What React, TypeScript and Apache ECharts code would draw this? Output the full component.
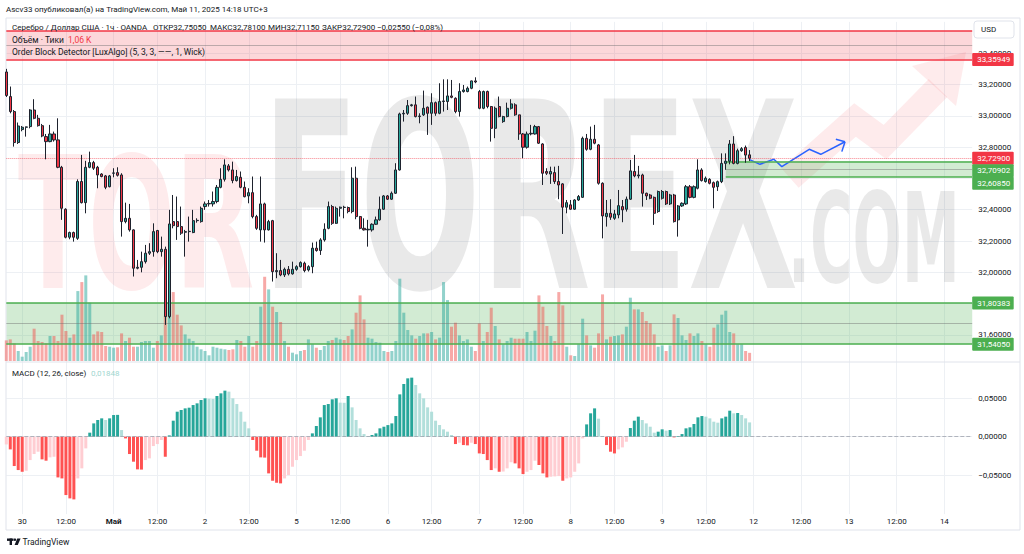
import React, { useEffect, useRef } from "react";
import * as echarts from "echarts";

// ---------- data (hourly bars, index 0 = first, partly clipped bar) ----------
const opens = [
  33.28, 33.123, 33.027, 32.829, 32.912, 32.927, 32.931, 33.037, 32.984, 32.937, 32.867,
  32.835, 32.884, 32.846, 32.671, 32.403, 32.224, 32.254, 32.217, 32.58, 32.445,
  32.671, 32.701, 32.671, 32.628, 32.616, 32.547, 32.633, 32.637, 32.622, 32.324,
  32.345, 32.271, 32.026, 32.032, 32.068, 32.122, 32.132, 32.267, 32.132, 32.147,
  31.717, 32.324, 32.324, 32.292, 32.256, 32.26, 32.254, 32.33, 32.324, 32.42,
  32.437, 32.437, 32.452, 32.543, 32.594, 32.68, 32.654, 32.586, 32.607, 32.543,
  32.488, 32.509, 32.356, 32.271, 32.437, 32.271, 32.33, 32.004, 32.011, 31.983,
  32.019, 31.99, 32.019, 32.036, 32.058, 32.015, 32.036, 32.154, 32.139, 32.207,
  32.281, 32.42, 32.313, 32.409, 32.416, 32.414, 32.388, 32.601, 32.356, 32.281,
  32.271, 32.271, 32.307, 32.335, 32.403, 32.488, 32.467, 32.505, 32.654, 33.012,
  33.016, 33.065, 33.07, 32.995, 33.006, 33.055, 33.016, 33.084, 33.016, 33.091,
  33.091, 33.127, 33.112, 33.027, 33.155, 33.155, 33.176, 33.223, 33.155, 33.048,
  33.155, 33.059, 32.92, 33.059, 32.963, 32.995, 33.048, 33.07, 33.006, 32.884,
  32.799, 32.884, 32.884, 32.931, 32.82, 32.644, 32.628, 32.637, 32.58, 32.565,
  32.416, 32.431, 32.403, 32.462, 32.479, 32.856, 32.786, 32.85, 32.814, 32.569,
  32.356, 32.377, 32.345, 32.367, 32.42, 32.403, 32.467, 32.644, 32.616, 32.622,
  32.505, 32.494, 32.479, 32.388, 32.473, 32.516, 32.437, 32.494, 32.335, 32.424,
  32.437, 32.547, 32.479, 32.537, 32.654, 32.58, 32.594, 32.573, 32.547, 32.579,
  32.696, 32.71, 32.82, 32.696, 32.777, 32.798, 32.7505,
];
const closes = [
  33.13, 33.027, 32.829, 32.935, 32.927, 32.929, 33.037, 32.984, 32.937, 32.871, 32.835,
  32.884, 32.846, 32.671, 32.409, 32.224, 32.254, 32.224, 32.58, 32.445, 32.671,
  32.701, 32.665, 32.622, 32.612, 32.543, 32.616, 32.635, 32.62, 32.324, 32.345,
  32.271, 32.026, 32.032, 32.068, 32.122, 32.132, 32.26, 32.132, 32.147, 31.717,
  32.309, 32.298, 32.292, 32.25, 32.26, 32.262, 32.33, 32.332, 32.409, 32.437,
  32.44, 32.452, 32.543, 32.594, 32.686, 32.654, 32.586, 32.612, 32.543, 32.483,
  32.509, 32.356, 32.281, 32.437, 32.271, 32.324, 32.004, 32.011, 31.983, 32.019,
  31.99, 32.019, 32.036, 32.062, 32.011, 32.036, 32.154, 32.139, 32.207, 32.275,
  32.42, 32.313, 32.409, 32.416, 32.414, 32.388, 32.601, 32.356, 32.281, 32.271,
  32.275, 32.307, 32.335, 32.403, 32.488, 32.467, 32.505, 32.654, 33.012, 33.016,
  33.065, 33.07, 32.995, 32.999, 33.048, 33.016, 33.084, 33.016, 33.091, 33.095,
  33.127, 33.118, 33.027, 33.155, 33.165, 33.176, 33.223, 33.216, 33.048, 33.155,
  33.059, 32.92, 33.048, 32.995, 32.995, 33.048, 33.076, 33.006, 32.884, 32.799,
  32.884, 32.888, 32.931, 32.825, 32.633, 32.633, 32.644, 32.58, 32.558, 32.416,
  32.445, 32.403, 32.462, 32.484, 32.856, 32.786, 32.85, 32.825, 32.569, 32.36,
  32.377, 32.352, 32.373, 32.426, 32.399, 32.467, 32.648, 32.616, 32.622, 32.505,
  32.488, 32.473, 32.377, 32.516, 32.516, 32.437, 32.494, 32.324, 32.424, 32.441,
  32.547, 32.479, 32.547, 32.654, 32.586, 32.601, 32.569, 32.543, 32.579, 32.696,
  32.71, 32.82, 32.696, 32.777, 32.79, 32.749, 32.729,
];
const lows = [
  33.12, 33.016, 32.803, 32.82, 32.901, 32.867, 32.92, 32.978, 32.931, 32.863, 32.722,
  32.831, 32.835, 32.665, 32.335, 32.217, 32.211, 32.196, 32.207, 32.44, 32.377,
  32.665, 32.654, 32.537, 32.607, 32.531, 32.543, 32.607, 32.612, 32.228, 32.313,
  32.26, 31.973, 32.019, 32.0, 32.056, 32.111, 32.1, 32.122, 32.1, 31.664,
  31.706, 32.281, 32.207, 32.239, 32.1, 32.196, 32.25, 32.317, 32.317, 32.399,
  32.42, 32.42, 32.441, 32.537, 32.58, 32.644, 32.569, 32.58, 32.537, 32.479,
  32.441, 32.345, 32.271, 32.196, 32.19, 32.267, 31.941, 31.962, 31.975, 31.97,
  31.98, 31.985, 32.01, 32.03, 32.0, 32.005, 31.994, 32.132, 32.111, 32.196,
  32.275, 32.303, 32.309, 32.356, 32.345, 32.377, 32.377, 32.339, 32.275, 32.267,
  32.164, 32.26, 32.303, 32.33, 32.399, 32.462, 32.462, 32.501, 32.65, 32.963,
  33.006, 33.059, 32.99, 32.952, 32.999, 32.878, 32.942, 33.0, 33.01, 33.027,
  33.037, 33.112, 33.016, 32.995, 33.148, 33.15, 33.17, 33.208, 33.042, 33.042,
  33.048, 32.835, 32.857, 32.99, 32.955, 32.99, 33.04, 33.0, 32.846, 32.729,
  32.79, 32.875, 32.88, 32.82, 32.558, 32.622, 32.565, 32.565, 32.467, 32.245,
  32.377, 32.399, 32.399, 32.456, 32.475, 32.777, 32.78, 32.818, 32.56, 32.217,
  32.292, 32.335, 32.335, 32.345, 32.32, 32.388, 32.462, 32.607, 32.6, 32.42,
  32.462, 32.467, 32.303, 32.38, 32.465, 32.43, 32.43, 32.318, 32.228, 32.418,
  32.43, 32.473, 32.473, 32.53, 32.58, 32.573, 32.562, 32.409, 32.52, 32.57,
  32.655, 32.69, 32.69, 32.69, 32.77, 32.7, 32.7115,
];
const highs = [
  33.3, 33.187, 33.037, 32.957, 32.935, 32.931, 33.042, 33.106, 33.006, 32.948, 32.884,
  32.942, 32.899, 32.984, 32.68, 32.409, 32.26, 32.26, 32.594, 32.75, 32.712,
  32.771, 32.712, 32.68, 32.633, 32.622, 32.622, 32.665, 32.671, 32.633, 32.445,
  32.437, 32.275, 32.079, 32.132, 32.175, 32.186, 32.313, 32.271, 32.228, 32.164,
  32.399, 32.494, 32.484, 32.42, 32.271, 32.356, 32.399, 32.345, 32.42, 32.452,
  32.462, 32.516, 32.558, 32.665, 32.722, 32.692, 32.707, 32.654, 32.644, 32.58,
  32.537, 32.612, 32.367, 32.612, 32.445, 32.335, 32.335, 32.122, 32.079, 32.03,
  32.04, 32.068, 32.045, 32.07, 32.068, 32.045, 32.19, 32.196, 32.218, 32.313,
  32.452, 32.431, 32.42, 32.42, 32.425, 32.42, 32.671, 32.675, 32.36, 32.345,
  32.335, 32.313, 32.356, 32.484, 32.494, 32.494, 32.516, 32.697, 33.02, 33.037,
  33.101, 33.076, 33.123, 33.016, 33.161, 33.059, 33.144, 33.091, 33.208, 33.233,
  33.233, 33.229, 33.118, 33.208, 33.197, 33.187, 33.225, 33.246, 33.165, 33.161,
  33.161, 33.063, 33.059, 33.123, 33.0, 33.084, 33.106, 33.08, 33.006, 32.89,
  32.899, 32.942, 32.942, 32.935, 32.825, 32.665, 32.675, 32.675, 32.68, 32.57,
  32.462, 32.462, 32.467, 32.494, 32.867, 32.884, 32.931, 32.942, 32.82, 32.575,
  32.462, 32.467, 32.399, 32.526, 32.462, 32.484, 32.718, 32.75, 32.68, 32.63,
  32.509, 32.501, 32.484, 32.522, 32.526, 32.522, 32.501, 32.501, 32.43, 32.447,
  32.558, 32.558, 32.555, 32.722, 32.665, 32.612, 32.601, 32.58, 32.586, 32.76,
  32.76, 32.845, 32.87, 32.79, 32.8, 32.81, 32.781,
];
// tick volume, thousands
const volumesK = [
  2.68,
  2.81, 2.29, 1.3, 0.56, 1.17, 1.86, 4.2, 2.6, 2.47, 2.29,
  3.25, 3.25, 2.6, 6.02, 3.9, 3.03, 3.46, 9.09, 10.26, 11.13,
  7.58, 3.46, 3.85, 3.77, 1.95, 1.86, 1.73, 1.78, 3.59, 2.6,
  3.03, 1.86, 1.86, 2.47, 2.6, 2.6, 1.73, 2.6, 3.33, 5.85,
  7.58, 8.96, 6.02, 4.63, 3.46, 2.9, 2.6, 1.86, 1.52, 1.3,
  0.74, 1.86, 1.73, 1.6, 1.52, 1.43, 1.52, 2.73, 2.6, 1.86,
  3.25, 1.86, 2.6, 7.06, 10.95, 9.31, 7.06, 6.37, 5.07, 2.6,
  1.86, 1.08, 0.87, 1.3, 1.43, 2.81, 2.17, 1.73, 1.43, 1.95,
  2.6, 2.73, 3.03, 2.81, 2.73, 3.25, 4.11, 6.28, 8.53, 5.41,
  3.03, 2.9, 2.47, 2.38, 1.3, 1.17, 1.3, 2.6, 10.7, 6.28,
  4.03, 3.33, 2.9, 3.25, 3.59, 3.59, 3.77, 2.81, 3.03, 10.26,
  7.92, 4.46, 4.98, 3.33, 2.6, 2.81, 1.86, 1.3, 4.89, 2.6,
  3.77, 6.93, 4.55, 2.81, 2.17, 2.6, 3.03, 2.9, 2.9, 2.9,
  3.77, 2.6, 3.94, 8.53, 7.06, 4.55, 3.25, 2.6, 8.96, 7.23,
  1.86, 0.74, 0.65, 2.17, 5.5, 3.33, 2.04, 1.73, 3.59, 8.66,
  2.81, 3.16, 3.25, 3.33, 3.46, 4.46, 8.23, 6.71, 6.71, 6.37,
  5.2, 4.89, 3.46, 1.86, 2.04, 1.3, 2.04, 6.06, 5.59, 3.33,
  2.73, 3.59, 3.25, 3.59, 2.6, 2.17, 1.86, 4.33, 4.76, 6.02,
  6.54, 3.77, 3.59, 2.17, 2.17, 1.3, 1.06,
];
const macdHist = [
  -0.01, -0.0164, -0.0379, -0.0431, -0.0453, -0.044, -0.0302, -0.0224, -0.0194, -0.0293,
  -0.031, -0.0267, -0.0259, -0.0526, -0.0539, -0.0754, -0.0797, -0.081, -0.0539, -0.0409,
  -0.0151, 0.0052, 0.0172, 0.0216, 0.0237, 0.0216, 0.0237, 0.028, 0.0282, 0.0086,
  -0.0022, -0.0224, -0.0323, -0.0422, -0.0425, -0.0302, -0.028, -0.0121, -0.0095, -0.0043,
  -0.0259, 0.0017, 0.0207, 0.0323, 0.0345, 0.0366, 0.0375, 0.0409, 0.0431, 0.0474,
  0.0496, 0.0491, 0.0488, 0.0526, 0.056, 0.0595, 0.0582, 0.0496, 0.0422, 0.0323,
  0.0194, 0.0108, -0.0043, -0.0181, -0.0267, -0.027, -0.0474, -0.0569, -0.0595, -0.0603,
  -0.0539, -0.0496, -0.0388, -0.0302, -0.025, -0.0181, -0.0043, 0.0043, 0.0138, 0.025,
  0.0409, 0.0422, 0.0483, 0.0496, 0.044, 0.0438, 0.0526, 0.0379, 0.0216, 0.0108,
  0.0034, 0.0009, 0.0022, 0.0043, 0.0108, 0.0129, 0.015, 0.0172, 0.0267, 0.0547,
  0.0681, 0.0754, 0.0763, 0.0668, 0.056, 0.0496, 0.0379, 0.0323, 0.0207, 0.0151,
  0.0095, 0.0065, 0.0022, -0.0095, -0.0078, -0.0108, -0.0112, -0.0078, -0.0095, -0.0216,
  -0.0224, -0.0302, -0.0431, -0.0409, -0.0453, -0.045, -0.0409, -0.033, -0.0345, -0.0409,
  -0.0483, -0.0453, -0.0431, -0.031, -0.0366, -0.0474, -0.0526, -0.0517, -0.0513, -0.0509,
  -0.0569, -0.0539, -0.0526, -0.0453, -0.0345, -0.0022, 0.0159, 0.0302, 0.0366, 0.0233,
  0.0009, -0.0108, -0.0194, -0.0216, -0.0164, -0.0138, -0.0065, 0.0112, 0.0207, 0.0259,
  0.0216, 0.0172, 0.0129, 0.0052, 0.0065, 0.0095, 0.0078, 0.0086, -0.0009, 0.0009,
  0.0034, 0.0108, 0.0121, 0.0164, 0.025, 0.0267, 0.0259, 0.0237, 0.0194, 0.0181,
  0.0237, 0.0259, 0.0336, 0.0302, 0.0306, 0.028, 0.0237, 0.01848,
];
const timeTicks: Array<[number, string]> = [
  [4, "30"], [15, "12:00"], [27, "Май"], [38, "12:00"], [50, "2"], [61, "12:00"],
  [73, "5"], [84, "12:00"], [96, "6"], [107, "12:00"], [119, "7"], [130, "12:00"],
  [142, "8"], [153, "12:00"], [165, "9"], [176, "12:00"], [188, "12"], [200, "12:00"],
  [212, "13"], [224, "12:00"], [236, "14"],
];
const hiddenPriceLabels = [32.6]; // covered by the price badges in the reference
const SLOT_COUNT = 244;
const lastClose = 32.729;
const orderBlocks = [
  { from: 0, to: 243, top: 33.542, bottom: 33.35949, side: "bear" },
  { from: 181, to: 243, top: 32.70902, bottom: 32.6085, side: "bull" },
  { from: 0, to: 243, top: 31.80383, bottom: 31.5405, side: "bull" },
];
const forecastPath = [
  [187, 32.72], [189.6, 32.69], [193.1, 32.722], [195.1, 32.675],
  [202.0, 32.786], [204.9, 32.754], [211.0, 32.834],
];
const forecastHeadA = [[208.7, 32.85], [211.0, 32.834]];
const forecastHeadB = [[210.2, 32.771], [211.0, 32.834]];
const priceBadges = [
  { value: 33.35949, side: "bear" },
  { value: 32.729, side: "bear" },
  { value: 32.70902, side: "bull" },
  { value: 32.6085, side: "bull" },
  { value: 31.80383, side: "bull" },
  { value: 31.5405, side: "bull" },
];
const legendItems: Array<[number, string]> = [
  [12, "Серебро / Доллар США · 1ч · OANDA"],
  [153, "ОТКР32,75050"],
  [210, "МАКС32,78100"],
  [268, "МИН32,71150"],
  [322, "ЗАКР32,72900"],
  [377, "\u22120,02550 (\u22120,08%)"],
];

// ---------- layout / style ----------
const LEFT = 6.3;
const RIGHT = 51.8;
const AXIS_X = 1024 - RIGHT;
const FONT = "Roboto, sans-serif";
const TXT = "#131722";
const GRID_C = "#edf0f4";
const RED = "#f23645";
const GREEN = "#4caf50";

const fmtPrice = (v: number) => v.toFixed(5).replace(".", ",");
const fmtSigned = (v: number) =>
  (v < -1e-9 ? "\u2212" : "") + Math.abs(v).toFixed(5).replace(".", ",");

function buildOption() {
  const cats = Array.from({ length: SLOT_COUNT }, (_, i) => String(i));
  const tickMap = new Map<number, string>(timeTicks);
  const candleData = opens.map((o, i) => [o, closes[i], lows[i], highs[i]]);
  const volumeData = volumesK.map((v, i) => ({
    value: v,
    itemStyle: {
      color: closes[i] >= opens[i] ? "rgba(38,166,154,0.5)" : "rgba(239,83,80,0.5)",
    },
  }));
  const macdData = macdHist.map((v, i) => {
    const prev = i > 0 ? macdHist[i - 1] : v;
    let c: string;
    if (v >= 0) c = v >= prev ? "#26a69a" : "#b2dfdb";
    else c = v < prev ? "#ff5252" : "#ffcdd2";
    return { value: v, itemStyle: { color: c } };
  });
  const fillOf = (s: string) => (s === "bear" ? "rgba(242,54,69,0.2)" : "rgba(76,175,80,0.25)");
  const lineOf = (s: string) => (s === "bear" ? RED : GREEN);
  const zoneAreas = orderBlocks.map((b) => [
    { xAxis: b.from, yAxis: b.top, itemStyle: { color: fillOf(b.side) } },
    { xAxis: b.to, yAxis: b.bottom },
  ]);
  const zoneLines: any[] = [];
  orderBlocks.forEach((b) => {
    const mid = (b.top + b.bottom) / 2;
    zoneLines.push([
      { xAxis: b.from, yAxis: b.top, lineStyle: { color: lineOf(b.side), width: 1.5, type: "solid" } },
      { xAxis: b.to, yAxis: b.top },
    ]);
    zoneLines.push([
      { xAxis: b.from, yAxis: b.bottom, lineStyle: { color: lineOf(b.side), width: 1.5, type: "solid" } },
      { xAxis: b.to, yAxis: b.bottom },
    ]);
    zoneLines.push([
      { xAxis: b.from, yAxis: mid, lineStyle: { color: "rgba(110,110,110,0.45)", width: 1, type: "solid" } },
      { xAxis: b.to, yAxis: mid },
    ]);
  });

  const vSplit = {
    show: true,
    interval: (i: number) => tickMap.has(i),
    lineStyle: { color: GRID_C, width: 1 },
  };
  const labelFont = { fontFamily: FONT, fontSize: 8, color: TXT };

  return {
    animation: false,
    backgroundColor: "#ffffff",
    grid: [
      { left: LEFT, right: RIGHT, top: 21.9, bottom: 187.8 },
      { left: LEFT, right: RIGHT, top: 261, bottom: 193 },
      { left: LEFT, right: RIGHT, top: 359.3, bottom: 39.9 },
    ],
    xAxis: [
      {
        type: "category", gridIndex: 0, data: cats, boundaryGap: false,
        axisLine: { show: false }, axisTick: { show: false }, axisLabel: { show: false },
        splitLine: vSplit,
      },
      {
        type: "category", gridIndex: 1, data: cats, boundaryGap: false,
        axisLine: { show: false }, axisTick: { show: false }, axisLabel: { show: false },
        splitLine: { show: false },
      },
      {
        type: "category", gridIndex: 2, data: cats, boundaryGap: false,
        axisLine: { show: false }, axisTick: { show: false },
        axisLabel: {
          show: true,
          interval: (i: number) => tickMap.has(i),
          formatter: (_v: string, i: number) => {
            const t = tickMap.get(i) || "";
            return t === "Май" ? "{b|Май}" : t;
          },
          margin: 3,
          ...labelFont,
          rich: { b: { fontFamily: FONT, fontSize: 8, color: TXT, fontWeight: "bold" } },
        },
        splitLine: vSplit,
      },
      { type: "value", gridIndex: 0, min: 0, max: SLOT_COUNT - 1, show: false },
    ],
    yAxis: [
      {
        type: "value", gridIndex: 0, position: "right", min: 31.4, max: 33.6, interval: 0.2,
        axisLine: { show: false }, axisTick: { show: false },
        axisLabel: {
          formatter: (v: number) =>
            hiddenPriceLabels.some((h) => Math.abs(h - v) < 1e-6) ? "" : fmtPrice(v),
          showMinLabel: false, showMaxLabel: false, margin: 6, ...labelFont,
        },
        splitLine: { show: true, showMinLine: false, showMaxLine: false, lineStyle: { color: GRID_C } },
      },
      { type: "value", gridIndex: 1, min: 0, max: 13, show: false },
      {
        type: "value", gridIndex: 2, position: "right", min: -0.1, max: 0.1, interval: 0.05,
        axisLine: { show: false }, axisTick: { show: false },
        axisLabel: { formatter: fmtSigned, showMinLabel: false, showMaxLabel: false, margin: 6, ...labelFont },
        splitLine: { show: true, showMinLine: false, showMaxLine: false, lineStyle: { color: GRID_C } },
      },
    ],
    series: [
      {
        type: "line", name: "zones", xAxisIndex: 3, yAxisIndex: 0,
        data: forecastPath, symbol: "none", z: 3,
        lineStyle: { color: "#2962ff", width: 1.5 },
        markArea: { silent: true, data: zoneAreas },
        markLine: { silent: true, symbol: ["none", "none"], label: { show: false }, data: zoneLines },
      },
      {
        type: "line", xAxisIndex: 3, yAxisIndex: 0, data: forecastHeadA, symbol: "none", z: 6,
        lineStyle: { color: "#2962ff", width: 1.5 },
      },
      {
        type: "line", xAxisIndex: 3, yAxisIndex: 0, data: forecastHeadB, symbol: "none", z: 6,
        lineStyle: { color: "#2962ff", width: 1.5 },
      },
      {
        type: "bar", name: "volume", xAxisIndex: 1, yAxisIndex: 1, data: volumeData,
        barWidth: 3, z: 2,
      },
      {
        type: "candlestick", name: "XAGUSD", xAxisIndex: 0, yAxisIndex: 0, data: candleData,
        barWidth: 2.6, z: 5,
        itemStyle: {
          color: "#26a69a", color0: "#f23645",
          borderColor: "#1e222d", borderColor0: "#1e222d", borderWidth: 1,
        },
        markLine: {
          silent: true, symbol: ["none", "none"], label: { show: false },
          lineStyle: { color: "rgba(242,54,69,0.6)", type: "dotted", width: 1 },
          data: [{ yAxis: lastClose }],
        },
      },
      {
        type: "bar", name: "MACD", xAxisIndex: 2, yAxisIndex: 2, data: macdData, barWidth: 3,
        markLine: {
          silent: true, symbol: ["none", "none"], label: { show: false },
          lineStyle: { color: "rgba(150,154,165,0.7)", type: "dashed", width: 1 },
          data: [{ yAxis: 0 }],
        },
      },
    ],
  };
}

function staticGraphics(): any[] {
  const txt = (id: string, x: number, y: number, text: string, fill = TXT, size = 8) => ({
    type: "text", id, x, y, silent: true, z: 50,
    style: { text, fill, font: `${size}px ${FONT}`, textVerticalAlign: "middle" },
  });
  const wm = "DejaVu Sans Condensed, DejaVu Sans, sans-serif";
  return [
    // watermark
    {
      type: "text", id: "wm-tor", x: 18, y: 224, scaleX: 0.62, silent: true, z: 0,
      style: { text: "TOR", fill: "rgba(242,54,69,0.10)", font: `bold 184px ${wm}`, textVerticalAlign: "middle" },
    },
    {
      type: "text", id: "wm-forex", x: 262, y: 198, scaleX: 0.61, silent: true, z: 0,
      style: { text: "FOREX", fill: "rgba(0,0,0,0.085)", font: `bold 260px ${wm}`, textVerticalAlign: "middle" },
    },
    {
      type: "text", id: "wm-com", x: 788, y: 239, scaleX: 0.52, silent: true, z: 0,
      style: { text: ".COM", fill: "rgba(0,0,0,0.085)", font: `bold 124px ${wm}`, textVerticalAlign: "middle" },
    },
    {
      type: "polyline", id: "wm-arrow", silent: true, z: 0,
      shape: { points: [[790, 178], [855, 120], [885, 142], [938, 88]] },
      style: { stroke: "rgba(242,54,69,0.10)", lineWidth: 26, fill: null, lineJoin: "miter" },
    },
    {
      type: "polygon", id: "wm-arrowhead", silent: true, z: 0,
      shape: { points: [[912, 66], [966, 52], [956, 106]] },
      style: { fill: "rgba(242,54,69,0.10)" },
    },
    // frame and pane separator
    {
      type: "rect", id: "frame", silent: true, z: 1,
      shape: { x: 6, y: 18, width: 1014, height: 512 },
      style: { fill: null, stroke: "#e0e3eb", lineWidth: 1 },
    },
    {
      type: "line", id: "sep", silent: true, z: 1,
      shape: { x1: 6, y1: 362, x2: 1020, y2: 362 },
      style: { stroke: "#e0e3eb", lineWidth: 1 },
    },
    // header
    txt("t-pub", 6, 9.5, "Ascv33 опубликовал(а) на TradingView.com, Май 11, 2025 14:18 UTC+3", TXT, 8),
    ...legendItems.map(([x, s], i) => txt("t-sym" + i, x, 27.5, s, TXT, 8)),
    txt("t-vol", 12, 40, "Объём · Тики", TXT, 8.5),
    txt("t-volv", 68, 40, "1,06 K", RED, 8.5),
    txt("t-ob", 12, 52, "Order Block Detector [LuxAlgo] (5, 3, 3, \u2014\u2014, 1, Wick)", TXT, 8.5),
    txt("t-macd", 12, 373, "MACD (12, 26, close)"),
    txt("t-macdv", 91, 373, "0,01848", "#9fd6cf"),
    // currency box
    {
      type: "rect", id: "usd-box", silent: true, z: 50,
      shape: { x: 974, y: 21, width: 40, height: 17, r: 3 },
      style: { fill: "#fff", stroke: "#e0e3eb", lineWidth: 1 },
    },
    txt("usd", 981, 29.5, "USD"),
    // footer logo
    { type: "rect", id: "lg1", silent: true, z: 50, shape: { x: 7, y: 538.5, width: 6.5, height: 2.4 }, style: { fill: TXT } },
    { type: "rect", id: "lg2", silent: true, z: 50, shape: { x: 9.6, y: 538.5, width: 2.4, height: 6.5 }, style: { fill: TXT } },
    { type: "circle", id: "lg3", silent: true, z: 50, shape: { cx: 14.9, cy: 539.7, r: 1.25 }, style: { fill: TXT } },
    {
      type: "polygon", id: "lg4", silent: true, z: 50,
      shape: { points: [[17.2, 538.5], [20.6, 538.5], [17.8, 545], [14.6, 545]] },
      style: { fill: TXT },
    },
    txt("tv", 22.5, 542, "TradingView", TXT, 8.5),
  ];
}

export default function App() {
  const ref = useRef<HTMLDivElement | null>(null);
  useEffect(() => {
    if (!ref.current) return;
    const chart = echarts.init(ref.current, undefined, { renderer: "svg" });
    chart.setOption(buildOption() as any);

    // price badges placed with the library's own price scale
    const placed = priceBadges
      .map((b) => ({ ...b, y: chart.convertToPixel({ yAxisIndex: 0 }, b.value) as number }))
      .sort((a, b) => b.value - a.value);
    let prev = -Infinity;
    placed.forEach((p) => {
      p.y = Math.max(p.y, prev + 12.5);
      prev = p.y;
    });
    const badgeEls: any[] = [];
    placed.forEach((p, i) => {
      badgeEls.push({
        type: "rect", id: "bdg-r" + i, silent: true, z: 60,
        shape: { x: AXIS_X, y: p.y - 6.5, width: 41.5, height: 13, r: 1 },
        style: { fill: p.side === "bear" ? RED : GREEN },
      });
      badgeEls.push({
        type: "text", id: "bdg-t" + i, silent: true, z: 61, x: AXIS_X + 5, y: p.y,
        style: { text: fmtPrice(p.value), fill: "#ffffff", font: `8px ${FONT}`, textVerticalAlign: "middle" },
      });
    });
    chart.setOption({ graphic: [...staticGraphics(), ...badgeEls] } as any);

    return () => chart.dispose();
  }, []);
  return (
    <div
      ref={ref}
      style={{ position: "fixed", left: 0, top: 0, width: 1024, height: 554, background: "#fff" }}
    />
  );
}
